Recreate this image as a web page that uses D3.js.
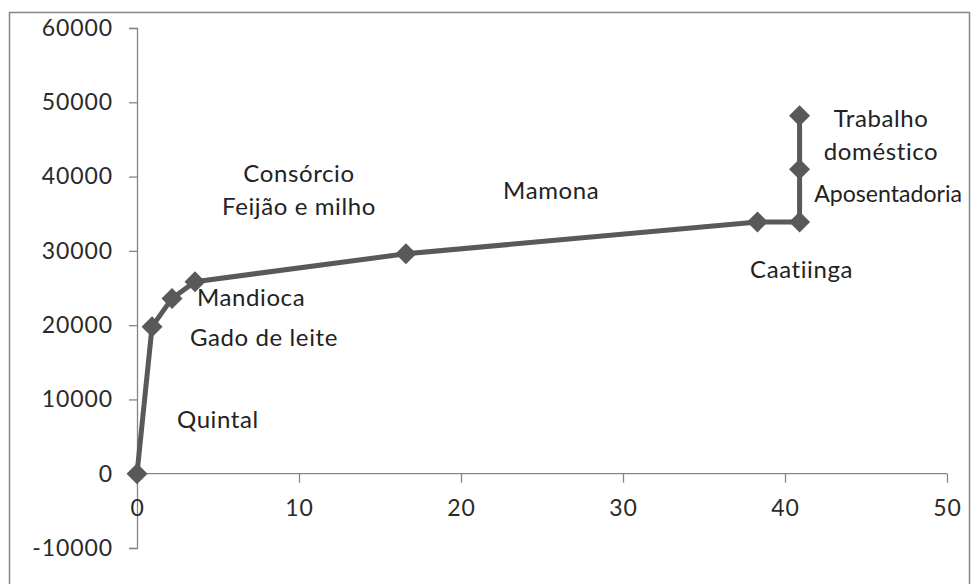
<!DOCTYPE html>
<html><head><meta charset="utf-8">
<script src="https://cdn.jsdelivr.net/npm/d3@7"></script>
<style>body{margin:0;background:#fff}svg{display:block}text{font-family:Lato,"Open Sans",sans-serif}</style>
</head><body>
<svg id="c" width="972" height="584"></svg>
<script>
const xValues = [0, 0.93, 2.16, 3.58, 16.6, 38.3, 40.9, 40.9, 40.9];
const yValues = [0, 19800, 23600, 25850, 29600, 33900, 33900, 41000, 48200];
const xTicks = [0, 10, 20, 30, 40, 50];
const yTicks = [-10000, 0, 10000, 20000, 30000, 40000, 50000, 60000];
const labelTexts = [["Quintal"], ["Gado de leite"], ["Mandioca"], ["Consórcio", "Feijão e milho"], ["Mamona"], ["Caatiinga"], ["Aposentadoria"], ["Trabalho", "doméstico"]];
const labelX = [2.47, 3.27, 3.7, 10.0, 22.6, 37.84, 41.8, 45.93];
const labelY = [6190, 17220, 22600, 39280, 37000, 26370, 36590, 46690];
const labelAnchor = ["start", "start", "start", "middle", "start", "start", "start", "middle"];

const svg = d3.select("#c");
svg.append("rect").attr("x", 9.5).attr("y", 12.5).attr("width", 960).attr("height", 580)
  .attr("fill", "#fff").attr("stroke", "#868686").attr("stroke-width", 1.5);

const x = d3.scaleLinear().domain([0, 50]).range([137, 947]);
const y = d3.scaleLinear().domain([-10000, 60000]).range([548, 28]);

const axisColor = "#868686";
const fmt = d => String(d);
const yAxis = svg.append("g").attr("transform", `translate(${x(0)},0)`)
  .call(d3.axisLeft(y).tickValues(yTicks).tickSize(8).tickPadding(16).tickFormat(fmt));
const xAxis = svg.append("g").attr("transform", `translate(0,${y(0)})`)
  .call(d3.axisBottom(x).tickValues(xTicks).tickSize(9).tickPadding(15).tickFormat(fmt));
[xAxis, yAxis].forEach(a => {
  a.select(".domain").attr("stroke", axisColor).attr("stroke-width", 1.3);
  a.selectAll(".tick line").attr("stroke", axisColor).attr("stroke-width", 1.3);
  a.selectAll("text").attr("fill", "#2a2a2a").attr("font-size", 23).attr("letter-spacing", 0.9).attr("font-family", "Lato");
});
xAxis.select(".domain").attr("d", `M${x(0)},0H${x(50)}`);
xAxis.selectAll(".tick text").attr("dy", "0.8em");

const data = xValues.map((v, i) => ({x: v, y: yValues[i]}));
svg.append("path").datum(data)
  .attr("fill", "none").attr("stroke", "#595959").attr("stroke-width", 5).attr("stroke-linejoin", "round")
  .attr("d", d3.line().x(d => x(d.x)).y(d => y(d.y)));

svg.selectAll(".pt").data(data).join("path").attr("class", "pt")
  .attr("transform", d => `translate(${x(d.x)},${y(d.y)})`)
  .attr("d", "M0,-10.5L10.5,0L0,10.5L-10.5,0Z").attr("fill", "#595959");

const rightLimit = 962;
labelTexts.forEach((lines, i) => {
  const t = svg.append("text").attr("x", x(labelX[i])).attr("y", y(labelY[i]))
    .attr("text-anchor", labelAnchor[i]).attr("font-size", 24).attr("letter-spacing", 0.6).attr("fill", "#222");
  lines.forEach((l, j) => {
    const ts = t.append("tspan").attr("x", x(labelX[i])).attr("dy", j === 0 ? 0 : 33).text(l);
    const bb = ts.node().getComputedTextLength();
    const left = labelAnchor[i] === "middle" ? x(labelX[i]) - bb / 2 : x(labelX[i]);
    if (left + bb > rightLimit) {
      t.attr("letter-spacing", 0);
      const bb0 = ts.node().getComputedTextLength();
      ts.attr("font-size", Math.min(24, 24 * (rightLimit - left) / bb0));
    }
  });
});
</script>
</body></html>
